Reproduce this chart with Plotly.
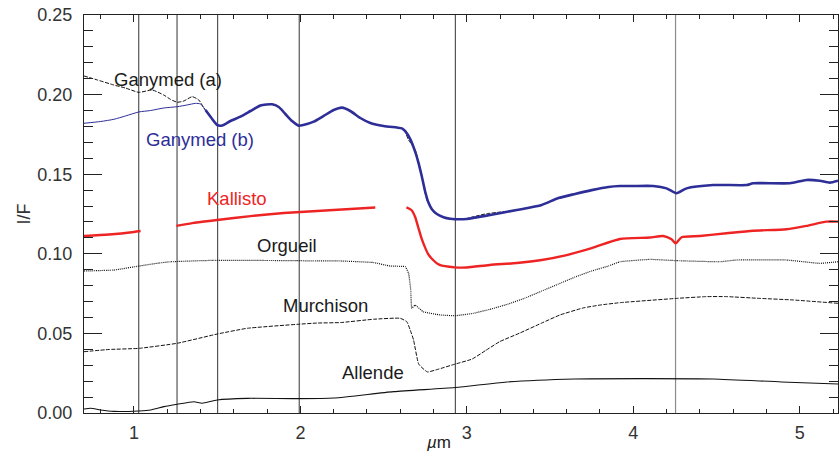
import plotly.graph_objects as go

# Reflectance spectra (I/F) versus wavelength in micrometres
gan_a_x = [0.70, 0.78, 0.88, 0.95, 1.03, 1.11, 1.18, 1.22, 1.26, 1.30, 1.35, 1.39, 1.42,
           1.47, 1.50, 1.53, 1.58, 1.64, 1.70, 1.76, 1.83, 1.87, 1.91, 1.95, 1.99, 2.04,
           2.08, 2.14, 2.20, 2.25, 2.30, 2.36, 2.42, 2.50, 2.58, 2.62, 2.65, 2.69, 2.73,
           2.76, 2.81, 2.89, 2.93, 3.00, 3.06, 3.12, 3.20, 3.30]
gan_a_y = [0.2117, 0.2092, 0.2060, 0.2041, 0.2014, 0.2029, 0.1997, 0.1970, 0.1952, 0.1960,
           0.1987, 0.1966, 0.1916, 0.1847, 0.1809, 0.1806, 0.1834, 0.1862, 0.1897, 0.1932,
           0.1939, 0.1922, 0.1878, 0.1834, 0.1805, 0.1815, 0.1830, 0.1866, 0.1903, 0.1918,
           0.1897, 0.1853, 0.1822, 0.1803, 0.1793, 0.1784, 0.1715, 0.1652, 0.1484, 0.1338,
           0.1254, 0.1219, 0.1217, 0.1222, 0.1238, 0.1252, 0.1262, 0.1275]

gan_b_x = [0.70, 0.80, 0.88, 0.95, 1.03, 1.10, 1.18, 1.26, 1.32, 1.37, 1.40, 1.43, 1.47,
           1.50, 1.53, 1.58, 1.64, 1.70, 1.76, 1.83, 1.87, 1.91, 1.95, 1.99, 2.04, 2.08,
           2.14, 2.20, 2.25, 2.30, 2.36, 2.42, 2.50, 2.58, 2.61, 2.63, 2.66, 2.69, 2.71,
           2.73, 2.75, 2.77, 2.79, 2.82, 2.86, 2.90, 2.93, 3.00, 3.14, 3.30, 3.45, 3.55,
           3.65, 3.75, 3.85, 3.92, 4.00, 4.12, 4.20, 4.26, 4.32, 4.48, 4.68, 4.72, 4.94,
           5.04, 5.12, 5.18, 5.23]
gan_b_y = [0.1820, 0.1831, 0.1845, 0.1866, 0.1891, 0.1900, 0.1916, 0.1924, 0.1935, 0.1945,
           0.1941, 0.1903, 0.1847, 0.1809, 0.1806, 0.1834, 0.1862, 0.1897, 0.1932, 0.1939,
           0.1922, 0.1878, 0.1834, 0.1805, 0.1815, 0.1830, 0.1866, 0.1903, 0.1918, 0.1897,
           0.1853, 0.1822, 0.1803, 0.1793, 0.1788, 0.1770, 0.1720, 0.1640, 0.1570, 0.1484,
           0.1390, 0.1320, 0.1280, 0.1250, 0.1230, 0.1220, 0.1217, 0.1219, 0.1244, 0.1275,
           0.1307, 0.1350, 0.1376, 0.1400, 0.1420, 0.1426, 0.1426, 0.1426, 0.1411, 0.1380,
           0.1411, 0.1432, 0.1432, 0.1443, 0.1443, 0.1464, 0.1459, 0.1447, 0.1459]
gan_b_thin_end = 1.43   # instrument segment drawn with a thin line below this wavelength

kal_x = [0.70, 0.85, 1.00, 1.04, None,
         1.255, 1.35, 1.50, 1.70, 1.90, 2.10, 2.30, 2.45, None,
         2.637, 2.667, 2.69, 2.707, 2.727, 2.747, 2.767, 2.787, 2.837, 2.927, 3.00, 3.137,
         3.30, 3.45, 3.60, 3.75, 3.92, 4.10, 4.18, 4.23, 4.255, 4.29, 4.40, 4.56, 4.72,
         4.92, 5.04, 5.16, 5.23]
kal_y = [0.1112, 0.1121, 0.1137, 0.1143, None,
         0.1175, 0.1193, 0.1212, 0.1237, 0.1256, 0.1269, 0.1281, 0.1291, None,
         0.1292, 0.1275, 0.1230, 0.1170, 0.1100, 0.1045, 0.1000, 0.0972, 0.0930, 0.0915,
         0.0914, 0.0930, 0.0942, 0.0961, 0.0992, 0.1036, 0.1093, 0.1102, 0.1112, 0.1091,
         0.1066, 0.1104, 0.1112, 0.1129, 0.1145, 0.1154, 0.1175, 0.1202, 0.1202]

org_x = [0.70, 0.88, 1.03, 1.15, 1.22, 1.48, 1.80, 1.98, 2.08, 2.24, 2.44, 2.54, 2.63,
         2.65, 2.663, 2.669, 2.689, 2.738, 2.839, 2.929, 3.038, 3.139, 3.25, 3.35, 3.45,
         3.55, 3.65, 3.75, 3.85, 3.92, 4.10, 4.26, 4.52, 4.62, 4.92, 5.12, 5.23]
org_y = [0.0892, 0.0898, 0.0923, 0.0942, 0.0950, 0.0959, 0.0958, 0.0957, 0.0955, 0.0955,
         0.0945, 0.0923, 0.0919, 0.0877, 0.0773, 0.0658, 0.0678, 0.0636, 0.0616, 0.0611,
         0.0626, 0.0651, 0.0685, 0.0722, 0.0766, 0.0810, 0.0854, 0.0892, 0.0923, 0.0950,
         0.0965, 0.0957, 0.0950, 0.0961, 0.0961, 0.0940, 0.0950]

mur_x = [0.70, 0.85, 1.03, 1.26, 1.50, 1.68, 1.98, 2.10, 2.24, 2.44, 2.60, 2.64, 2.66,
         2.68, 2.711, 2.763, 2.825, 2.929, 3.032, 3.115, 3.197, 3.32, 3.45, 3.56, 3.70,
         3.80, 3.92, 4.26, 4.44, 4.56, 4.76, 4.96, 5.23]
mur_y = [0.0385, 0.0399, 0.0406, 0.0438, 0.0496, 0.0532, 0.0557, 0.0565, 0.0568, 0.0589,
         0.0595, 0.0573, 0.0521, 0.0459, 0.0307, 0.0258, 0.0274, 0.0307, 0.0339, 0.0394,
         0.0448, 0.0503, 0.0565, 0.0616, 0.0660, 0.0678, 0.0693, 0.0720, 0.0731, 0.0731,
         0.0720, 0.0710, 0.0689]

all_x = [0.70, 0.74, 0.80, 0.88, 1.03, 1.10, 1.18, 1.26, 1.36, 1.41, 1.50, 1.68, 1.98,
         2.20, 2.56, 2.93, 3.24, 3.65, 4.07, 4.48, 4.89, 5.23]
all_y = [0.0025, 0.0030, 0.0019, 0.0010, 0.0013, 0.0019, 0.0040, 0.0055, 0.0071, 0.0061,
         0.0082, 0.0092, 0.0090, 0.0094, 0.0134, 0.0160, 0.0195, 0.0214, 0.0216, 0.0214,
         0.0195, 0.0182]

# Wavelengths marked by vertical reference lines
marker_lines = [1.029, 1.259, 1.503, 1.993, 2.931]
marker_lines_grey = [4.254]

# Curve labels: text, x, y, colour
labels = [
    ("Ganymed (a)", 1.204, 0.2098, "#1a1a1a"),
    ("Ganymed (b)", 1.396, 0.1715, "#2e2e98"),
    ("Kallisto", 1.621, 0.1350, "#ee2424"),
    ("Orgueil", 1.919, 0.1055, "#1a1a1a"),
    ("Murchison", 2.149, 0.0678, "#1a1a1a"),
    ("Allende", 2.437, 0.0253, "#1a1a1a"),
]

BLUE = "#2e2e98"
RED = "#ee2424"
FONT = "Liberation Sans, Arial, sans-serif"

fig = go.Figure()

for xv in marker_lines:
    fig.add_shape(type="line", x0=xv, x1=xv, y0=0, y1=1, xref="x", yref="paper",
                  line=dict(color="#333333", width=1), layer="below")
for xv in marker_lines_grey:
    fig.add_shape(type="line", x0=xv, x1=xv, y0=0, y1=1, xref="x", yref="paper",
                  line=dict(color="#8a8a8a", width=1.2), layer="below")

fig.add_trace(go.Scatter(x=all_x, y=all_y, mode="lines",
                         line=dict(color="#111111", width=1.1, shape="spline", smoothing=0.6),
                         name="Allende"))
fig.add_trace(go.Scatter(x=mur_x, y=mur_y, mode="lines",
                         line=dict(color="#111111", width=1, dash="4px,1.5px",
                                   shape="spline", smoothing=0.4),
                         name="Murchison"))
fig.add_trace(go.Scatter(x=org_x, y=org_y, mode="lines",
                         line=dict(color="#111111", width=1.2, dash="1px,1px",
                                   shape="spline", smoothing=0.3),
                         name="Orgueil"))
fig.add_trace(go.Scatter(x=gan_a_x, y=gan_a_y, mode="lines",
                         line=dict(color="#111111", width=1, dash="4px,1.5px",
                                   shape="spline", smoothing=0.5),
                         name="Ganymed (a)"))

thin_x = [x for x in gan_b_x if x <= gan_b_thin_end]
thin_y = gan_b_y[:len(thin_x)]
thick_x = gan_b_x[len(thin_x) - 1:]
thick_y = gan_b_y[len(thin_x) - 1:]
fig.add_trace(go.Scatter(x=thin_x, y=thin_y, mode="lines",
                         line=dict(color=BLUE, width=1, shape="spline", smoothing=0.6),
                         name="Ganymed (b)"))
fig.add_trace(go.Scatter(x=thick_x, y=thick_y, mode="lines",
                         line=dict(color=BLUE, width=2.6, shape="spline", smoothing=0.6),
                         name="Ganymed (b)"))
fig.add_trace(go.Scatter(x=kal_x, y=kal_y, mode="lines", connectgaps=False,
                         line=dict(color=RED, width=2.4, shape="spline", smoothing=0.6),
                         name="Kallisto"))

for text, lx, ly, col in labels:
    fig.add_annotation(x=lx, y=ly, text=text, showarrow=False,
                       font=dict(family=FONT, size=18.5, color=col))

fig.add_annotation(x=2.83, y=-0.075, xref="x", yref="paper", text="<i>µ</i>m",
                   showarrow=False, yanchor="middle", xanchor="center",
                   font=dict(family=FONT, size=17, color="#222222"))

axis_common = dict(
    showline=True, linecolor="#222222", linewidth=1.3, mirror="allticks",
    ticks="inside", tickcolor="#222222", showgrid=False, zeroline=False,
    tickfont=dict(family=FONT, size=18, color="#333333"),
)

fig.update_xaxes(range=[0.70, 5.23], tick0=0, dtick=1, ticklen=7, tickwidth=1,
                 minor=dict(dtick=0.2, ticklen=3.5, ticks="inside", tickcolor="#222222"),
                 ticklabelstandoff=3, **axis_common)
fig.update_yaxes(range=[0, 0.25], tick0=0, dtick=0.05, tickformat=".2f", ticklen=18,
                 tickwidth=1.3,
                 minor=dict(dtick=0.01, ticklen=9, ticks="inside", tickcolor="#222222"),
                 ticklabelstandoff=7,
                 title=dict(text="I/F", standoff=1,
                            font=dict(family=FONT, size=18, color="#333333")),
                 **axis_common)

fig.update_layout(
    width=840, height=455,
    margin=dict(l=84, r=2, t=15, b=42, autoexpand=False),
    paper_bgcolor="white", plot_bgcolor="white",
    showlegend=False,
)

fig.write_html("out.html")
